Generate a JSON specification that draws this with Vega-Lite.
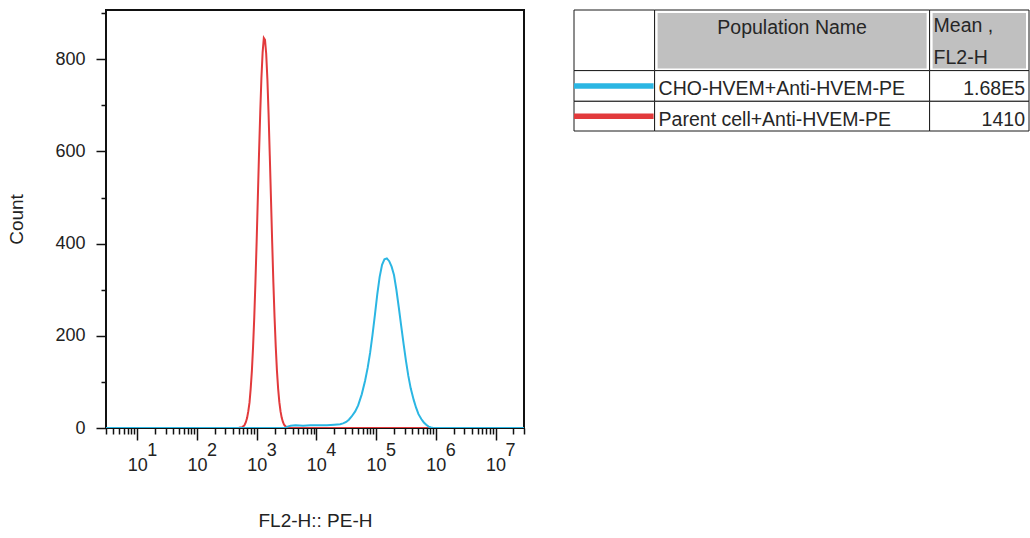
{
  "$schema": "https://vega.github.io/schema/vega-lite/v6.json",
  "padding": {"left": 6, "top": 3, "right": 2, "bottom": 2},
  "spacing": 45,
  "config": {
    "font": "Liberation Sans",
    "view": {"stroke": "#111111", "strokeWidth": 2}
  },
  "datasets": {
    "hist": [
      {"pop": "Parent cell+Anti-HVEM-PE", "fl2h": 3, "count": 0},
      {"pop": "Parent cell+Anti-HVEM-PE", "fl2h": 501, "count": 0},
      {"pop": "Parent cell+Anti-HVEM-PE", "fl2h": 525, "count": 1},
      {"pop": "Parent cell+Anti-HVEM-PE", "fl2h": 550, "count": 1},
      {"pop": "Parent cell+Anti-HVEM-PE", "fl2h": 575, "count": 2},
      {"pop": "Parent cell+Anti-HVEM-PE", "fl2h": 603, "count": 4},
      {"pop": "Parent cell+Anti-HVEM-PE", "fl2h": 631, "count": 7},
      {"pop": "Parent cell+Anti-HVEM-PE", "fl2h": 661, "count": 13},
      {"pop": "Parent cell+Anti-HVEM-PE", "fl2h": 692, "count": 22},
      {"pop": "Parent cell+Anti-HVEM-PE", "fl2h": 724, "count": 36},
      {"pop": "Parent cell+Anti-HVEM-PE", "fl2h": 759, "count": 55},
      {"pop": "Parent cell+Anti-HVEM-PE", "fl2h": 794, "count": 85},
      {"pop": "Parent cell+Anti-HVEM-PE", "fl2h": 832, "count": 124},
      {"pop": "Parent cell+Anti-HVEM-PE", "fl2h": 871, "count": 176},
      {"pop": "Parent cell+Anti-HVEM-PE", "fl2h": 912, "count": 240},
      {"pop": "Parent cell+Anti-HVEM-PE", "fl2h": 955, "count": 318},
      {"pop": "Parent cell+Anti-HVEM-PE", "fl2h": 1000, "count": 405},
      {"pop": "Parent cell+Anti-HVEM-PE", "fl2h": 1047, "count": 500},
      {"pop": "Parent cell+Anti-HVEM-PE", "fl2h": 1096, "count": 596},
      {"pop": "Parent cell+Anti-HVEM-PE", "fl2h": 1148, "count": 684},
      {"pop": "Parent cell+Anti-HVEM-PE", "fl2h": 1202, "count": 760},
      {"pop": "Parent cell+Anti-HVEM-PE", "fl2h": 1259, "count": 815},
      {"pop": "Parent cell+Anti-HVEM-PE", "fl2h": 1318, "count": 846},
      {"pop": "Parent cell+Anti-HVEM-PE", "fl2h": 1380, "count": 842},
      {"pop": "Parent cell+Anti-HVEM-PE", "fl2h": 1445, "count": 812},
      {"pop": "Parent cell+Anti-HVEM-PE", "fl2h": 1514, "count": 756},
      {"pop": "Parent cell+Anti-HVEM-PE", "fl2h": 1585, "count": 680},
      {"pop": "Parent cell+Anti-HVEM-PE", "fl2h": 1660, "count": 590},
      {"pop": "Parent cell+Anti-HVEM-PE", "fl2h": 1738, "count": 497},
      {"pop": "Parent cell+Anti-HVEM-PE", "fl2h": 1820, "count": 403},
      {"pop": "Parent cell+Anti-HVEM-PE", "fl2h": 1905, "count": 316},
      {"pop": "Parent cell+Anti-HVEM-PE", "fl2h": 1995, "count": 240},
      {"pop": "Parent cell+Anti-HVEM-PE", "fl2h": 2089, "count": 176},
      {"pop": "Parent cell+Anti-HVEM-PE", "fl2h": 2188, "count": 124},
      {"pop": "Parent cell+Anti-HVEM-PE", "fl2h": 2291, "count": 85},
      {"pop": "Parent cell+Anti-HVEM-PE", "fl2h": 2399, "count": 56},
      {"pop": "Parent cell+Anti-HVEM-PE", "fl2h": 2512, "count": 36},
      {"pop": "Parent cell+Anti-HVEM-PE", "fl2h": 2630, "count": 22},
      {"pop": "Parent cell+Anti-HVEM-PE", "fl2h": 2754, "count": 13},
      {"pop": "Parent cell+Anti-HVEM-PE", "fl2h": 2884, "count": 7},
      {"pop": "Parent cell+Anti-HVEM-PE", "fl2h": 3020, "count": 4},
      {"pop": "Parent cell+Anti-HVEM-PE", "fl2h": 3162, "count": 2},
      {"pop": "Parent cell+Anti-HVEM-PE", "fl2h": 3311, "count": 1},
      {"pop": "Parent cell+Anti-HVEM-PE", "fl2h": 3467, "count": 0},
      {"pop": "Parent cell+Anti-HVEM-PE", "fl2h": 30000000, "count": 0},
      {"pop": "CHO-HVEM+Anti-HVEM-PE", "fl2h": 3, "count": 0},
      {"pop": "CHO-HVEM+Anti-HVEM-PE", "fl2h": 3000, "count": 0},
      {"pop": "CHO-HVEM+Anti-HVEM-PE", "fl2h": 3300, "count": 3},
      {"pop": "CHO-HVEM+Anti-HVEM-PE", "fl2h": 3700, "count": 5},
      {"pop": "CHO-HVEM+Anti-HVEM-PE", "fl2h": 4500, "count": 6},
      {"pop": "CHO-HVEM+Anti-HVEM-PE", "fl2h": 6000, "count": 5},
      {"pop": "CHO-HVEM+Anti-HVEM-PE", "fl2h": 8000, "count": 6},
      {"pop": "CHO-HVEM+Anti-HVEM-PE", "fl2h": 11000, "count": 6},
      {"pop": "CHO-HVEM+Anti-HVEM-PE", "fl2h": 15000, "count": 6},
      {"pop": "CHO-HVEM+Anti-HVEM-PE", "fl2h": 20000, "count": 7},
      {"pop": "CHO-HVEM+Anti-HVEM-PE", "fl2h": 25000, "count": 8},
      {"pop": "CHO-HVEM+Anti-HVEM-PE", "fl2h": 28000, "count": 10},
      {"pop": "CHO-HVEM+Anti-HVEM-PE", "fl2h": 31600, "count": 13},
      {"pop": "CHO-HVEM+Anti-HVEM-PE", "fl2h": 35000, "count": 18},
      {"pop": "CHO-HVEM+Anti-HVEM-PE", "fl2h": 39000, "count": 25},
      {"pop": "CHO-HVEM+Anti-HVEM-PE", "fl2h": 44700, "count": 36},
      {"pop": "CHO-HVEM+Anti-HVEM-PE", "fl2h": 50100, "count": 49},
      {"pop": "CHO-HVEM+Anti-HVEM-PE", "fl2h": 57500, "count": 73},
      {"pop": "CHO-HVEM+Anti-HVEM-PE", "fl2h": 65300, "count": 102},
      {"pop": "CHO-HVEM+Anti-HVEM-PE", "fl2h": 72400, "count": 131},
      {"pop": "CHO-HVEM+Anti-HVEM-PE", "fl2h": 79400, "count": 163},
      {"pop": "CHO-HVEM+Anti-HVEM-PE", "fl2h": 87100, "count": 202},
      {"pop": "CHO-HVEM+Anti-HVEM-PE", "fl2h": 95500, "count": 245},
      {"pop": "CHO-HVEM+Anti-HVEM-PE", "fl2h": 104700, "count": 290},
      {"pop": "CHO-HVEM+Anti-HVEM-PE", "fl2h": 114800, "count": 328},
      {"pop": "CHO-HVEM+Anti-HVEM-PE", "fl2h": 125900, "count": 354},
      {"pop": "CHO-HVEM+Anti-HVEM-PE", "fl2h": 138000, "count": 366},
      {"pop": "CHO-HVEM+Anti-HVEM-PE", "fl2h": 151400, "count": 368},
      {"pop": "CHO-HVEM+Anti-HVEM-PE", "fl2h": 166000, "count": 362},
      {"pop": "CHO-HVEM+Anti-HVEM-PE", "fl2h": 182000, "count": 350},
      {"pop": "CHO-HVEM+Anti-HVEM-PE", "fl2h": 199500, "count": 332},
      {"pop": "CHO-HVEM+Anti-HVEM-PE", "fl2h": 218800, "count": 300},
      {"pop": "CHO-HVEM+Anti-HVEM-PE", "fl2h": 239900, "count": 262},
      {"pop": "CHO-HVEM+Anti-HVEM-PE", "fl2h": 263000, "count": 222},
      {"pop": "CHO-HVEM+Anti-HVEM-PE", "fl2h": 288400, "count": 183},
      {"pop": "CHO-HVEM+Anti-HVEM-PE", "fl2h": 316200, "count": 146},
      {"pop": "CHO-HVEM+Anti-HVEM-PE", "fl2h": 346700, "count": 113},
      {"pop": "CHO-HVEM+Anti-HVEM-PE", "fl2h": 380200, "count": 86},
      {"pop": "CHO-HVEM+Anti-HVEM-PE", "fl2h": 426600, "count": 61},
      {"pop": "CHO-HVEM+Anti-HVEM-PE", "fl2h": 467700, "count": 44},
      {"pop": "CHO-HVEM+Anti-HVEM-PE", "fl2h": 512900, "count": 30},
      {"pop": "CHO-HVEM+Anti-HVEM-PE", "fl2h": 575400, "count": 19},
      {"pop": "CHO-HVEM+Anti-HVEM-PE", "fl2h": 631000, "count": 12},
      {"pop": "CHO-HVEM+Anti-HVEM-PE", "fl2h": 691800, "count": 7},
      {"pop": "CHO-HVEM+Anti-HVEM-PE", "fl2h": 758600, "count": 3},
      {"pop": "CHO-HVEM+Anti-HVEM-PE", "fl2h": 831800, "count": 1},
      {"pop": "CHO-HVEM+Anti-HVEM-PE", "fl2h": 912000, "count": 0},
      {"pop": "CHO-HVEM+Anti-HVEM-PE", "fl2h": 30000000, "count": 0}
    ],
    "exps": [
      {"fl2h": 10, "exp": "1"},
      {"fl2h": 100, "exp": "2"},
      {"fl2h": 1000, "exp": "3"},
      {"fl2h": 10000, "exp": "4"},
      {"fl2h": 100000, "exp": "5"},
      {"fl2h": 1000000, "exp": "6"},
      {"fl2h": 10000000, "exp": "7"}
    ],
    "cells": [
      {"c1": 0, "c2": 1, "r1": 0, "r2": 1},
      {"c1": 1, "c2": 2, "r1": 0, "r2": 1},
      {"c1": 2, "c2": 3, "r1": 0, "r2": 1},
      {"c1": 0, "c2": 1, "r1": 1, "r2": 2},
      {"c1": 1, "c2": 2, "r1": 1, "r2": 2},
      {"c1": 2, "c2": 3, "r1": 1, "r2": 2},
      {"c1": 0, "c2": 1, "r1": 2, "r2": 3},
      {"c1": 1, "c2": 2, "r1": 2, "r2": 3},
      {"c1": 2, "c2": 3, "r1": 2, "r2": 3}
    ],
    "legend": [
      {"pop": "CHO-HVEM+Anti-HVEM-PE", "mean": "1.68E5", "row": 1.5},
      {"pop": "Parent cell+Anti-HVEM-PE", "mean": "1410", "row": 2.5}
    ]
  },
  "hconcat": [
    {
      "width": 418,
      "height": 418,
      "layer": [
        {
          "data": {"name": "hist"},
          "transform": [{"filter": "datum.pop == 'Parent cell+Anti-HVEM-PE'"}],
          "mark": {"type": "line", "strokeWidth": 2, "clip": true},
          "encoding": {
            "x": {
              "field": "fl2h",
              "type": "quantitative",
              "title": "FL2-H:: PE-H",
              "scale": {"type": "log", "domain": [3, 30000000], "nice": false},
              "axis": {
                "values": [3,4,5,6,7,8,9,10,20,30,40,50,60,70,80,90,100,200,300,400,500,600,700,800,900,1000,2000,3000,4000,5000,6000,7000,8000,9000,10000,20000,30000,40000,50000,60000,70000,80000,90000,100000,200000,300000,400000,500000,600000,700000,800000,900000,1000000,2000000,3000000,4000000,5000000,6000000,7000000,8000000,9000000,10000000,20000000,30000000],
                "labelExpr": "abs(log(datum.value)/LN10 - round(log(datum.value)/LN10)) < 0.001 ? '10' : ''",
                "tickSize": {"condition": {"test": "abs(log(datum.value)/LN10 - round(log(datum.value)/LN10)) < 0.001", "value": 12}, "value": 6},
                "labelOverlap": false,
                "labelFlush": false,
                "domain": false,
                "grid": false,
                "tickColor": "#111111",
                "tickWidth": 1.5,
                "labelFontSize": 18,
                "labelColor": "#222222",
                "labelPadding": 16,
                "labelDx": 2,
                "titleFontSize": 19,
                "titleFontWeight": "normal",
                "titleColor": "#222222",
                "titlePadding": 37
              }
            },
            "y": {
              "field": "count",
              "type": "quantitative",
              "title": "Count",
              "scale": {"domain": [0, 907], "nice": false},
              "axis": {
                "values": [0,100,200,300,400,500,600,700,800,900],
                "labelExpr": "datum.value % 200 == 0 ? datum.label : ''",
                "tickSize": {"condition": {"test": "datum.value % 200 == 0", "value": 10}, "value": 5},
                "labelOverlap": false,
                "labelFlush": false,
                "domain": false,
                "grid": false,
                "tickColor": "#111111",
                "tickWidth": 1.5,
                "labelFontSize": 18,
                "labelColor": "#222222",
                "labelPadding": 11,
                "titleFontSize": 19,
                "titleFontWeight": "normal",
                "titleColor": "#222222",
                "titlePadding": 28
              }
            },
            "color": {
              "field": "pop",
              "type": "nominal",
              "scale": {"domain": ["CHO-HVEM+Anti-HVEM-PE", "Parent cell+Anti-HVEM-PE"], "range": ["#2bb6e3", "#e23a3c"]},
              "legend": null
            }
          }
        },
        {
          "data": {"name": "hist"},
          "transform": [{"filter": "datum.pop == 'CHO-HVEM+Anti-HVEM-PE'"}],
          "mark": {"type": "line", "strokeWidth": 2, "clip": true},
          "encoding": {
            "x": {"field": "fl2h", "type": "quantitative"},
            "y": {"field": "count", "type": "quantitative"},
            "color": {"field": "pop", "type": "nominal", "legend": null}
          }
        },
        {
          "data": {"name": "exps"},
          "mark": {"type": "text", "dx": 15, "dy": 23, "fontSize": 18, "color": "#222222", "align": "center", "baseline": "middle"},
          "encoding": {
            "x": {"field": "fl2h", "type": "quantitative"},
            "y": {"datum": 0},
            "text": {"field": "exp"}
          }
        }
      ]
    },
    {
      "width": 455,
      "height": 121,
      "view": {"stroke": null},
      "layer": [
        {
          "data": {"name": "cells"},
          "mark": {"type": "rect", "fill": "white", "stroke": "#1a1a1a", "strokeWidth": 1},
          "encoding": {
            "x": {"field": "c1", "type": "quantitative", "scale": {"domain": [0, 1, 2, 3], "range": [0, 80.6, 355.6, 455], "nice": false, "zero": false}, "axis": null},
            "x2": {"field": "c2"},
            "y": {"field": "r1", "type": "quantitative", "scale": {"domain": [0, 1, 2, 3], "range": [0, 60.6, 91.3, 121], "nice": false, "zero": false}, "axis": null},
            "y2": {"field": "r2"}
          }
        },
        {
          "data": {"name": "cells"},
          "transform": [{"filter": "datum.r1 == 0 && datum.c1 >= 1"}],
          "mark": {"type": "rect", "fill": "#c0c0c0", "xOffset": 3, "x2Offset": -3, "yOffset": 3, "y2Offset": -2},
          "encoding": {
            "x": {"field": "c1", "type": "quantitative"},
            "x2": {"field": "c2"},
            "y": {"field": "r1", "type": "quantitative"},
            "y2": {"field": "r2"}
          }
        },
        {
          "data": {"name": "legend"},
          "mark": {"type": "rule", "strokeWidth": 5.5, "strokeCap": "butt", "x2Offset": -1},
          "encoding": {
            "x": {"datum": 0, "type": "quantitative"},
            "x2": {"datum": 1},
            "y": {"field": "row", "type": "quantitative"},
            "color": {"field": "pop", "type": "nominal", "legend": null}
          }
        },
        {
          "data": {"name": "legend"},
          "mark": {"type": "text", "align": "left", "baseline": "alphabetic", "dx": 4, "dy": 9.5, "fontSize": 19.5, "color": "#262626"},
          "encoding": {
            "x": {"datum": 1, "type": "quantitative"},
            "y": {"field": "row", "type": "quantitative"},
            "text": {"field": "pop"}
          }
        },
        {
          "data": {"name": "legend"},
          "mark": {"type": "text", "align": "right", "baseline": "alphabetic", "dx": -4, "dy": 9.5, "fontSize": 19.5, "color": "#262626"},
          "encoding": {
            "x": {"datum": 3, "type": "quantitative"},
            "y": {"field": "row", "type": "quantitative"},
            "text": {"field": "mean"}
          }
        },
        {
          "data": {"values": [{"label": "Population Name"}]},
          "mark": {"type": "text", "align": "center", "baseline": "alphabetic", "dy": -6, "fontSize": 19.5, "color": "#262626"},
          "encoding": {
            "x": {"datum": 1.5, "type": "quantitative"},
            "y": {"datum": 0.5, "type": "quantitative"},
            "text": {"field": "label"}
          }
        },
        {
          "data": {"values": [{"label": ["Mean ,", "FL2-H"]}]},
          "mark": {"type": "text", "align": "left", "baseline": "alphabetic", "dx": 4, "dy": -8, "lineHeight": 32, "fontSize": 19.5, "color": "#262626"},
          "encoding": {
            "x": {"datum": 2, "type": "quantitative"},
            "y": {"datum": 0.5, "type": "quantitative"},
            "text": {"field": "label"}
          }
        }
      ]
    }
  ]
}
